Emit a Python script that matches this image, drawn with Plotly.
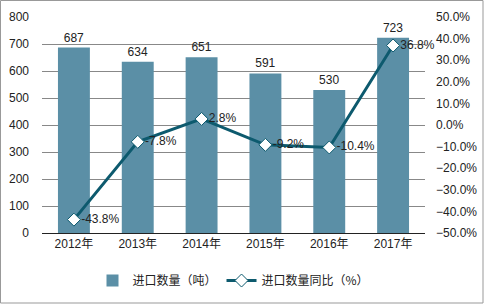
import plotly.graph_objects as go

years = ["2012年", "2013年", "2014年", "2015年", "2016年", "2017年"]
volume = [687, 634, 651, 591, 530, 723]
yoy = [-43.8, -7.8, 2.8, -9.2, -10.4, 36.8]
yoy_labels = ["-43.8%", "-7.8%", "2.8%", "-9.2%", "-10.4%", "36.8%"]

FONT = "Liberation Sans, Arial, Noto Sans CJK SC, sans-serif"
bar_color = "#5b8fa6"
line_color = "#0d5a6e"

fig = go.Figure()
fig.add_trace(go.Bar(
    x=years, y=volume, name="进口数量（吨）",
    marker=dict(color=bar_color, line=dict(width=0)),
    text=[str(v) for v in volume], textposition="outside",
    textfont=dict(size=12, color="#222"), cliponaxis=False,
))
fig.add_trace(go.Scatter(
    x=years, y=yoy, name="进口数量同比（%）", yaxis="y2",
    mode="lines+markers+text",
    line=dict(color=line_color, width=3),
    marker=dict(symbol="diamond", size=10, color="white", line=dict(color=line_color, width=1)),
    text=yoy_labels, textposition="middle right",
    textfont=dict(size=12, color="#222"), cliponaxis=False,
))

fig.update_layout(
    width=484, height=304,
    margin=dict(l=42, r=59, t=17, b=71, autoexpand=False),
    paper_bgcolor="white", plot_bgcolor="white",
    font=dict(family=FONT, size=12, color="#222"),
    bargap=0.5,
    showlegend=True,
    legend=dict(orientation="h", x=0.5, xanchor="center", y=-0.22, yanchor="middle",
                font=dict(size=12, family="Noto Sans CJK SC, sans-serif"),
                itemwidth=30, traceorder="normal"),
    xaxis=dict(type="category", showline=True, linecolor="#222", linewidth=1,
               ticks="", tickfont=dict(size=12), showgrid=False),
    yaxis=dict(range=[0, 800], dtick=100, showgrid=True, gridcolor="#888",
               gridwidth=1, zeroline=False, showline=False, ticks="",
               ticklabelstandoff=12, tickfont=dict(size=12)),
    yaxis2=dict(range=[-50, 50], dtick=10, overlaying="y", side="right",
                showgrid=False, zeroline=False, showline=False, ticks="",
                ticksuffix="%", tickformat=".1f", tickfont=dict(size=12),
                ticklabelstandoff=10),
    shapes=[dict(type="rect", xref="paper", yref="paper",
                 x0=-41.5/383, x1=(383+58)/383, y0=-70/216, y1=(216+16.5)/216,
                 line=dict(color="#999", width=1), fillcolor="rgba(0,0,0,0)")],
)

fig.write_html("out.html")
